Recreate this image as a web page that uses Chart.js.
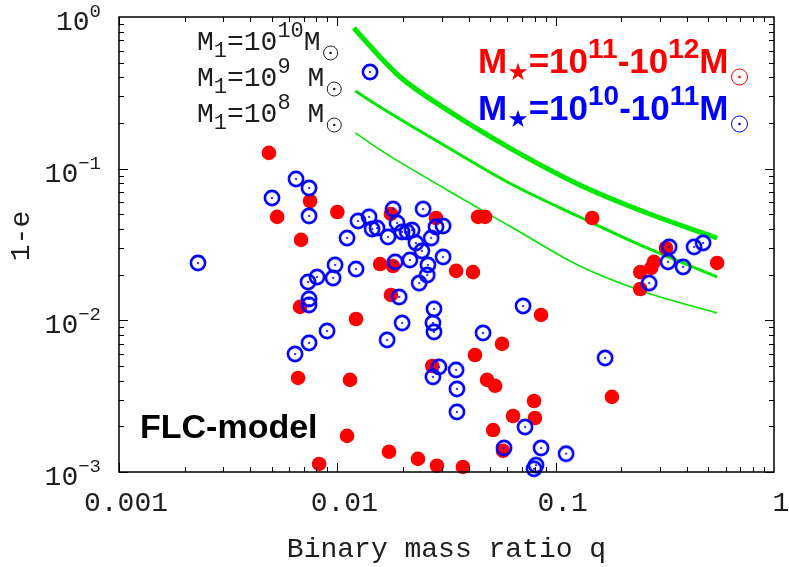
<!DOCTYPE html>
<html>
<head>
<meta charset="utf-8">
<script src="https://cdn.jsdelivr.net/npm/chart.js@4.4.0/dist/chart.umd.min.js"></script>
<style>
  html, body { margin: 0; padding: 0; background: #fff; }
</style>
</head>
<body>
<canvas id="grafico" width="789" height="567"></canvas>
<script>
// Datos (q = razón de masas, 1-e)
const redQ = [0.00486, 0.0075, 0.0053, 0.0100, 0.00682, 0.0176, 0.0283, 0.0441, 0.0475, 0.147,
              0.0157, 0.0180, 0.0350, 0.0418, 0.0176, 0.0857, 0.00675, 0.01218, 0.0568, 0.0427,
              0.0272, 0.00661, 0.01143, 0.0485, 0.0528, 0.0796, 0.181, 0.0638, 0.0804, 0.0517,
              0.01108, 0.01725, 0.0574, 0.0234, 0.0286, 0.0376, 0.00825, 0.320, 0.282, 0.274,
              0.244, 0.244, 0.549];
const redE = [0.127, 0.0612, 0.0481, 0.0518, 0.0339, 0.0503, 0.0473, 0.0481, 0.0481, 0.0473,
              0.0235, 0.0228, 0.0212, 0.0208, 0.0147, 0.01085, 0.01226, 0.01021, 0.00699, 0.00591,
              0.00500, 0.00417, 0.00405, 0.00405, 0.00370, 0.00294, 0.00313, 0.00234, 0.00227, 0.00189,
              0.00173, 0.00136, 0.00138, 0.00122, 0.00110, 0.00108, 0.00113, 0.0300, 0.0243, 0.0222,
              0.0208, 0.0161, 0.0239];

const blueQ = [0.01412, 0.00647, 0.00742, 0.00502, 0.00742, 0.0180, 0.0247, 0.01244, 0.01397, 0.01108,
               0.01443, 0.0152, 0.01707, 0.01877, 0.01979, 0.02087, 0.0220, 0.0229, 0.0244, 0.0269,
               0.0283, 0.0305, 0.0305, 0.0260, 0.0215, 0.0184, 0.00976, 0.01218, 0.0258, 0.0237,
               0.0023, 0.00807, 0.00734, 0.00956, 0.00742, 0.00742, 0.00897, 0.00742, 0.0064, 0.0169,
               0.0192, 0.0198, 0.0277, 0.0274, 0.0277, 0.0465, 0.0709, 0.1684, 0.0292, 0.0274,
               0.0350, 0.0353, 0.0353, 0.0724, 0.058, 0.0857, 0.1116, 0.0813, 0.0796, 0.331,
               0.327, 0.3835, 0.4305, 0.4734, 0.268];
const blueE = [0.434, 0.0855, 0.0746, 0.0641, 0.0488, 0.0542, 0.0542, 0.0452, 0.0481, 0.0349,
               0.0400, 0.0406, 0.0355, 0.0439, 0.0383, 0.0383, 0.0394, 0.0324, 0.0287, 0.0349,
               0.0413, 0.0419, 0.0262, 0.0232, 0.0250, 0.0243, 0.0232, 0.0218, 0.0199, 0.0176,
               0.0239, 0.0193, 0.0179, 0.0190, 0.01384, 0.01264, 0.00851, 0.0071, 0.0060, 0.00743,
               0.01426, 0.00961, 0.01189, 0.00961, 0.00839, 0.00826, 0.01244, 0.00565, 0.00493, 0.00424,
               0.00471, 0.00353, 0.00249, 0.00198, 0.00144, 0.00144, 0.00132, 0.00111, 0.00105, 0.0305,
               0.0243, 0.0225, 0.0305, 0.0324, 0.0176];

// Curvas M1 = 1e10, 1e9, 1e8
const curve10Q = [0.0119, 0.0157, 0.0194, 0.0318, 0.0638, 0.129, 0.262, 0.549];
const curve10E = [0.846, 0.545, 0.402, 0.244, 0.133, 0.078, 0.051, 0.0349];
const curve9Q = [0.0121, 0.0157, 0.0318, 0.0638, 0.129, 0.262, 0.549];
const curve9E = [0.325, 0.255, 0.139, 0.078, 0.048, 0.030, 0.0193];
const curve8Q = [0.0121, 0.0157, 0.0318, 0.0638, 0.129, 0.262, 0.549];
const curve8E = [0.172, 0.133, 0.0724, 0.0406, 0.0228, 0.0152, 0.0112];

const xTicks = [0.001, 0.01, 0.1, 1];
const xTickLabels = ['0.001', '0.01', '0.1', '1'];
const yTicks = [1, 0.1, 0.01, 0.001];
const yTickExps = ['0', '\u22121', '\u22122', '\u22123'];

const pares = (q, e) => q.map((v, i) => ({ x: v, y: e[i] }));

const verde = '#00e800';
const mono = 'Liberation Mono';
const gris = '#1e1e1e';

// símbolo ⊙ azul para los puntos
const sol = document.createElement('canvas');
sol.width = 20; sol.height = 20;
(function () {
    const c = sol.getContext('2d');
    c.strokeStyle = '#0000ff';
    c.lineWidth = 2.6;
    c.beginPath(); c.arc(10, 10, 7.1, 0, Math.PI * 2); c.stroke();
    c.fillStyle = '#0000ff';
    c.beginPath(); c.arc(10, 10, 1.1, 0, Math.PI * 2); c.fill();
})();

function textoRico(ctx, x, y, partes, color) {
    ctx.fillStyle = color;
    ctx.textAlign = 'left';
    ctx.textBaseline = 'alphabetic';
    for (const p of partes) {
        ctx.font = p[1];
        ctx.fillText(p[0], x, y + p[2]);
        x += ctx.measureText(p[0]).width;
    }
    return x;
}

function circuloSol(ctx, cx, cy, r, color, lw) {
    ctx.strokeStyle = color;
    ctx.fillStyle = color;
    ctx.lineWidth = lw;
    ctx.beginPath(); ctx.arc(cx, cy, r, 0, Math.PI * 2); ctx.stroke();
    ctx.beginPath(); ctx.arc(cx, cy, 1.3, 0, Math.PI * 2); ctx.fill();
}

const dibujo = {
    id: 'dibujo',
    afterDraw(chart) {
        const ctx = chart.ctx, a = chart.chartArea;
        const sx = chart.scales.x, sy = chart.scales.y;
        ctx.save();

        // marco
        ctx.strokeStyle = '#000';
        ctx.lineWidth = 1.5;
        ctx.strokeRect(a.left, a.top, a.right - a.left, a.bottom - a.top);

        // marcas mayores y menores, hacia dentro
        ctx.lineWidth = 1;
        ctx.beginPath();
        for (let d = -3; d < 0; d++) {
            for (let m = 1; m < 10; m++) {
                const v = m * Math.pow(10, d);
                const len = m === 1 ? 9 : 5;
                const px = Math.round(sx.getPixelForValue(v)) + 0.5;
                ctx.moveTo(px, a.bottom); ctx.lineTo(px, a.bottom - len);
                ctx.moveTo(px, a.top); ctx.lineTo(px, a.top + len);
                const py = Math.round(sy.getPixelForValue(v)) + 0.5;
                ctx.moveTo(a.left, py); ctx.lineTo(a.left + len, py);
                ctx.moveTo(a.right, py); ctx.lineTo(a.right - len, py);
            }
        }
        ctx.stroke();

        // etiquetas eje x
        ctx.fillStyle = gris;
        ctx.font = '28px "' + mono + '"';
        ctx.textAlign = 'center';
        ctx.textBaseline = 'alphabetic';
        xTicks.forEach((v, i) => {
            ctx.fillText(xTickLabels[i], sx.getPixelForValue(v) + 7, 511);
        });
        ctx.fillText('Binary mass ratio q', (a.left + a.right) / 2, 557);

        // etiquetas eje y con exponente
        yTicks.forEach((v, i) => {
            const py = sy.getPixelForValue(v);
            ctx.font = '28px "' + mono + '"';
            const w1 = ctx.measureText('10').width;
            ctx.font = '19px "' + mono + '"';
            const w2 = ctx.measureText(yTickExps[i]).width;
            textoRico(ctx, 101 - w1 - w2, py + 13, [
                ['10', '28px "' + mono + '"', 0],
                [yTickExps[i], '19px "' + mono + '"', -13]
            ], gris);
        });

        // título eje y
        ctx.save();
        ctx.translate(29, 236);
        ctx.rotate(-Math.PI / 2);
        ctx.font = '28px "' + mono + '"';
        ctx.textAlign = 'center';
        ctx.fillStyle = gris;
        ctx.fillText('1-e', 0, 0);
        ctx.restore();

        // leyenda de curvas M1
        const f28 = '28px "' + mono + '"', f22 = '22px "' + mono + '"';
        let fin = textoRico(ctx, 197, 50, [['M', f28, 0], ['1', f22, 7], ['=', f28, 0], ['10', f28, 0], ['10', f22, -13], ['M', f28, 0]], gris);
        circuloSol(ctx, fin + 10, 53, 7, gris, 1);
        fin = textoRico(ctx, 197, 86, [['M', f28, 0], ['1', f22, 7], ['=', f28, 0], ['10', f28, 0], ['9', f22, -13], [' ', f28, 0], ['M', f28, 0]], gris);
        circuloSol(ctx, fin + 10, 89, 7, gris, 1);
        fin = textoRico(ctx, 197, 122, [['M', f28, 0], ['1', f22, 7], ['=', f28, 0], ['10', f28, 0], ['8', f22, -13], [' ', f28, 0], ['M', f28, 0]], gris);
        circuloSol(ctx, fin + 10, 125, 7, gris, 1);

        // leyenda de masas estelares
        const b35 = 'bold 35px "Liberation Sans"', b28 = 'bold 28px "Liberation Sans"';
        const est = '24px "DejaVu Sans"';
        fin = textoRico(ctx, 478, 73, [['M', b35, 0], ['\u2605', est, 7], ['=', b35, 0], ['10', b35, 0], ['11', b28, -15], ['-', b35, 0], ['10', b35, 0], ['12', b28, -15], ['M', b35, 0]], '#ff0000');
        circuloSol(ctx, fin + 11, 77, 8, '#ff0000', 1);
        fin = textoRico(ctx, 478, 120, [['M', b35, 0], ['\u2605', est, 7], ['=', b35, 0], ['10', b35, 0], ['10', b28, -15], ['-', b35, 0], ['10', b35, 0], ['11', b28, -15], ['M', b35, 0]], '#0000ff');
        circuloSol(ctx, fin + 11, 124, 8, '#0000ff', 1);

        // etiqueta del modelo
        textoRico(ctx, 140, 438, [['FLC-model', 'bold 34px "Liberation Sans"', 0]], '#000');

        ctx.restore();
    }
};

const curva = (q, e, ancho) => ({
    data: pares(q, e),
    showLine: true,
    borderColor: verde,
    borderWidth: ancho,
    pointRadius: 0,
    cubicInterpolationMode: 'monotone',
    order: 2
});

new Chart(document.getElementById('grafico').getContext('2d'), {
    type: 'scatter',
    data: {
        datasets: [
            { data: pares(blueQ, blueE), pointStyle: sol, pointRadius: 8, order: 0, clip: false },
            { data: pares(redQ, redE), pointStyle: 'circle', pointRadius: 7.3, backgroundColor: '#ff0000', borderWidth: 0, order: 1, clip: false },
            curva(curve10Q, curve10E, 5),
            curva(curve9Q, curve9E, 3),
            curva(curve8Q, curve8E, 1.6)
        ]
    },
    options: {
        responsive: false,
        animation: false,
        devicePixelRatio: 1,
        layout: { padding: { top: 17, right: 15, left: 0, bottom: 0 } },
        plugins: { legend: { display: false }, tooltip: { enabled: false } },
        scales: {
            x: {
                type: 'logarithmic', min: 0.001, max: 1,
                grid: { display: false }, border: { display: false },
                ticks: { display: false },
                afterFit(s) { s.height = 95; }
            },
            y: {
                type: 'logarithmic', min: 0.001, max: 1,
                grid: { display: false }, border: { display: false },
                ticks: { display: false },
                afterFit(s) { s.width = 119; }
            }
        }
    },
    plugins: [dibujo]
});
</script>
</body>
</html>
